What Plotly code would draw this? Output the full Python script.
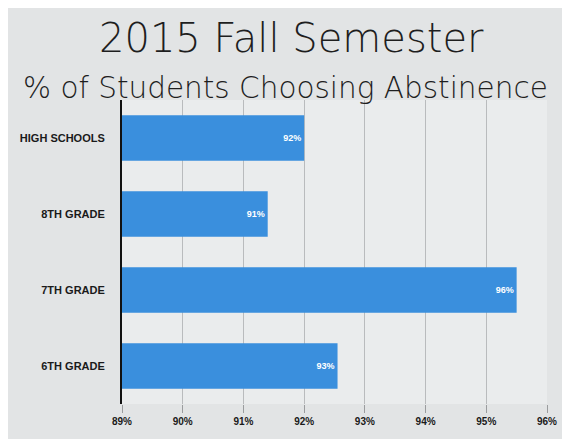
import plotly.graph_objects as go

categories = ["6TH GRADE", "7TH GRADE", "8TH GRADE", "HIGH SCHOOLS"]
values = [92.55, 95.5, 91.4, 92.0]
labels = ["93%", "96%", "91%", "92%"]
tick_vals = [89, 90, 91, 92, 93, 94, 95, 96]
tick_text = ["89%", "90%", "91%", "92%", "93%", "94%", "95%", "96%"]

bar_color = "#3a8fdd"

# page body has an 8px default margin, so the figure is sized to fit inside it
W, H = 562, 431
L, R, T, B = 111, 23, 92, 29
plot_w = W - L - R
plot_h = H - T - B

fig = go.Figure()
fig.add_trace(go.Bar(
    y=categories,
    x=[v - 89 for v in values],
    base=89,
    orientation="h",
    marker=dict(color=bar_color, line=dict(width=0)),
    width=0.6,
    text=labels,
    textposition="inside",
    insidetextanchor="end",
    textfont=dict(color="white", size=9, family="Liberation Sans Narrow, Liberation Sans, Arial", weight="bold"),
    hoverinfo="skip",
))

fig.update_layout(
    width=W, height=H,
    margin=dict(l=L, r=R, t=T, b=B),
    paper_bgcolor="#e2e4e5",
    plot_bgcolor="#eaeced",
    showlegend=False,
    font=dict(family="Liberation Sans Narrow, Liberation Sans, Arial", color="#1a1a1a"),
    xaxis=dict(
        range=[89, 96],
        tickvals=tick_vals,
        ticktext=tick_text,
        showgrid=True,
        gridcolor="#b9bbbd",
        gridwidth=1,
        zeroline=False,
        ticks="outside",
        ticklen=8,
        tickcolor="#9a9c9e",
        tickfont=dict(size=10, weight="bold", color="#1a1a1a"),
        fixedrange=True,
    ),
    yaxis=dict(
        showline=True,
        linecolor="#111111",
        linewidth=2,
        showgrid=False,
        ticks="",
        ticklabelstandoff=13,
        tickfont=dict(size=11, weight="bold", color="#1a1a1a"),
        fixedrange=True,
    ),
    annotations=[
        dict(text="2015 Fall Semester", xref="paper", yref="paper",
             x=(282 - L) / plot_w, y=1 + (T - 29) / plot_h, xanchor="center", yanchor="middle",
             showarrow=False,
             font=dict(family="DejaVu Sans", size=40, color="#1e1e1e", weight=200)),
        dict(text="% of Students Choosing Abstinence", xref="paper", yref="paper",
             x=(276 - L) / plot_w, y=1 + (T - 80) / plot_h, xanchor="center", yanchor="middle",
             showarrow=False,
             font=dict(family="DejaVu Sans", size=29.5, color="#1e1e1e", weight=200)),
    ],
)

fig.write_html("out.html")
